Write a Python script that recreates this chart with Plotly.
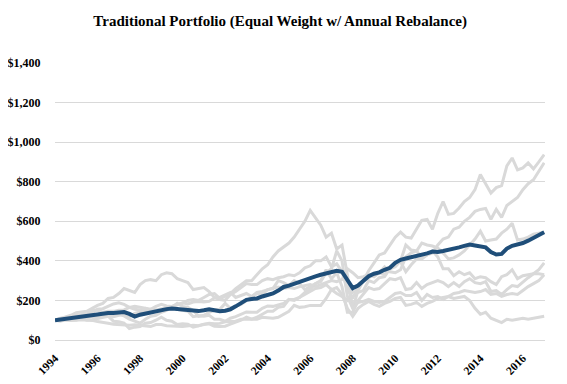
import plotly.graph_objects as go
import pandas as pd

# Quarterly observation dates (x categories)
dates = pd.date_range("1994-01-01", "2017-01-01", freq="QS")

# Equal-weight portfolio with annual rebalance (highlighted line)
portfolio = [
    100, 104, 107, 112, 114, 117, 122, 124, 128, 132, 136, 136,
    139, 141, 132, 118, 128, 134, 140, 147, 153, 156, 159, 157,
    154, 152, 150, 146, 150, 155, 150, 145, 148, 155, 170, 188,
    203, 207, 210, 220, 228, 235, 250, 268, 275, 285, 293, 305,
    316, 322, 330, 338, 345, 350, 345, 300, 262, 275, 300, 322,
    335, 342, 355, 365, 390, 405, 412, 418, 425, 432, 438, 447,
    445, 450, 455, 458, 468, 476, 482, 478, 474, 468, 445, 432,
    435, 462, 476, 482, 490, 502, 516, 530, 545,
]

# Individual asset classes (grey lines)
reits = [
    100, 103, 106, 110, 115, 122, 128, 140, 155, 158, 170, 182,
    188, 180, 165, 155, 152, 160, 150, 145, 145, 160, 170, 180,
    185, 200, 205, 200, 215, 230, 235, 210, 220, 235, 260, 280,
    300, 300, 330, 360, 380, 420, 450, 470, 490, 520, 560, 600,
    655, 620, 580, 520, 540, 460, 480, 330, 160, 250, 300, 350,
    390, 430, 440, 480, 520, 545, 520, 515, 560, 605, 610, 560,
    640, 700, 635, 640, 667, 700, 720, 760, 836, 790, 743, 770,
    780, 880, 920, 860, 870, 895, 865, 900, 937,
]
us_stocks = [
    100, 108, 117, 125, 138, 143, 145, 160, 175, 185, 210, 215,
    235, 260, 250, 240, 280, 300, 305, 300, 330, 340, 335, 310,
    300, 290, 255, 260, 265, 245, 215, 205, 200, 230, 245, 265,
    285, 280, 280, 300, 310, 305, 315, 320, 330, 325, 340, 365,
    375, 400, 400, 420, 370, 385, 345, 255, 210, 270, 300, 315,
    330, 340, 330, 365, 395, 395, 345, 380, 410, 410, 430, 440,
    480, 510, 520, 560, 570, 600, 620, 650, 660, 665, 610, 660,
    620, 680, 700, 720, 760, 790, 810, 850, 896,
]
lt_treasury = [
    100, 110, 113, 122, 130, 120, 122, 130, 128, 128, 138, 145,
    150, 152, 165, 170, 165, 158, 155, 152, 158, 160, 168, 178,
    188, 182, 192, 195, 192, 195, 212, 215, 228, 240, 215, 225,
    235, 220, 240, 245, 255, 262, 268, 260, 265, 260, 270, 275,
    280, 270, 280, 290, 300, 295, 305, 360, 340, 315, 320, 330,
    320, 340, 370, 345, 340, 355, 420, 440, 450, 490, 480, 475,
    465, 440, 410, 415, 430, 450, 480, 510, 550, 500, 505, 510,
    540, 560, 590, 505, 510, 520, 535, 540, 545,
]
emerging = [
    100, 95, 102, 98, 100, 108, 100, 102, 108, 115, 120, 95,
    92, 85, 58, 65, 68, 85, 88, 100, 115, 100, 95, 78,
    82, 80, 65, 72, 80, 82, 70, 68, 70, 80, 90, 100,
    115, 105, 115, 130, 145, 145, 165, 170, 205, 200, 215, 240,
    255, 285, 300, 355, 310, 340, 270, 140, 140, 200, 230, 265,
    255, 260, 285, 310, 305, 315, 255, 260, 290, 260, 280, 290,
    300, 290, 270, 290, 270, 295, 310, 290, 285, 295, 245, 250,
    230, 255, 275, 270, 295, 315, 335, 355, 390,
]
intl_developed = [
    100, 104, 106, 108, 112, 116, 114, 118, 118, 124, 126, 118,
    125, 135, 118, 135, 142, 148, 155, 170, 180, 172, 170, 155,
    150, 145, 118, 122, 120, 125, 105, 105, 95, 110, 118, 130,
    142, 140, 140, 160, 172, 170, 178, 185, 205, 205, 215, 230,
    245, 260, 265, 280, 255, 265, 230, 160, 120, 160, 180, 195,
    180, 170, 185, 195, 210, 215, 175, 180, 190, 170, 185, 195,
    210, 215, 220, 235, 240, 250, 245, 240, 245, 255, 230, 235,
    220, 230, 235, 230, 250, 270, 285, 300, 330,
]
gold = [
    100, 101, 101, 101, 104, 102, 101, 99, 93, 90, 85, 80,
    78, 78, 75, 77, 75, 72, 68, 78, 78, 72, 72, 70,
    68, 70, 75, 72, 78, 85, 82, 84, 92, 93, 95, 105,
    105, 102, 105, 115, 113, 110, 115, 128, 145, 175, 165, 168,
    175, 175, 175, 210, 255, 235, 220, 200, 245, 240, 250, 300,
    290, 315, 320, 360, 370, 400, 480, 455, 450, 415, 430, 450,
    420, 360, 360, 325, 345, 330, 340, 310, 320, 315, 295, 280,
    320, 330, 355, 310, 325, 330, 335, 335, 330,
]
commodities = [
    100, 105, 104, 108, 118, 128, 130, 150, 150, 140, 145, 145,
    128, 122, 105, 95, 85, 105, 120, 125, 140, 150, 165, 185,
    170, 165, 150, 120, 125, 140, 150, 155, 185, 160, 170, 180,
    200, 215, 235, 230, 255, 260, 300, 290, 275, 300, 285, 255,
    270, 285, 295, 340, 360, 450, 400, 220, 160, 190, 195, 205,
    195, 190, 195, 215, 235, 240, 225, 225, 240, 200, 230, 215,
    220, 205, 220, 210, 215, 220, 200, 160, 130, 140, 110, 100,
    88, 105, 100, 105, 110, 105, 110, 118, 120,
]

y_ticks = [0, 200, 400, 600, 800, 1000, 1200, 1400]
x_ticks = ["1994", "1996", "1998", "2000", "2002", "2004", "2006",
           "2008", "2010", "2012", "2014", "2016"]

GREY = "#d9d9d9"
BLUE = "#1f4e79"
FONT = "Liberation Serif"

fig = go.Figure()
for series in [reits, us_stocks, lt_treasury, emerging, intl_developed, gold, commodities]:
    fig.add_trace(go.Scatter(x=dates, y=series, mode="lines",
                             line=dict(color=GREY, width=3), hoverinfo="skip",
                             showlegend=False))
fig.add_trace(go.Scatter(x=dates, y=portfolio, mode="lines",
                         line=dict(color=BLUE, width=4), showlegend=False))

# page body has an 8px default margin, so the figure is 16px smaller
fig.update_layout(
    width=551, height=368,
    margin=dict(l=47, r=14, t=55, b=36, autoexpand=False),
    paper_bgcolor="white", plot_bgcolor="white",
    title=dict(text="Traditional Portfolio (Equal Weight w/ Annual Rebalance)",
               x=0.494, xref="container", xanchor="center",
               y=0.966, yref="container", yanchor="middle",
               font=dict(family=FONT, size=15, color="black", weight="bold")),
    font=dict(family=FONT, size=12, color="black", weight="bold"),
)
fig.update_xaxes(
    type="date", range=["1994-01-01", "2017-01-15"], automargin=False,
    tickvals=[f"{y}-01-01" for y in x_ticks], ticktext=x_ticks,
    tickangle=-45, showgrid=False, showline=False, zeroline=False,
    ticks="outside", ticklen=6, tickcolor="rgba(0,0,0,0)",
    tickfont=dict(family=FONT, size=11.5, color="black", weight="bold"),
)
fig.update_yaxes(
    range=[0, 1400], tickvals=y_ticks, automargin=False,
    ticktext=[f"${v:,}" for v in y_ticks],
    showgrid=True, gridcolor=GREY, gridwidth=1,
    zeroline=True, zerolinecolor=GREY, zerolinewidth=1, showline=False,
    ticks="outside", ticklen=11, tickcolor="rgba(0,0,0,0)",
    tickfont=dict(family=FONT, size=12, color="black", weight="bold"),
)

fig.write_html("out.html")
